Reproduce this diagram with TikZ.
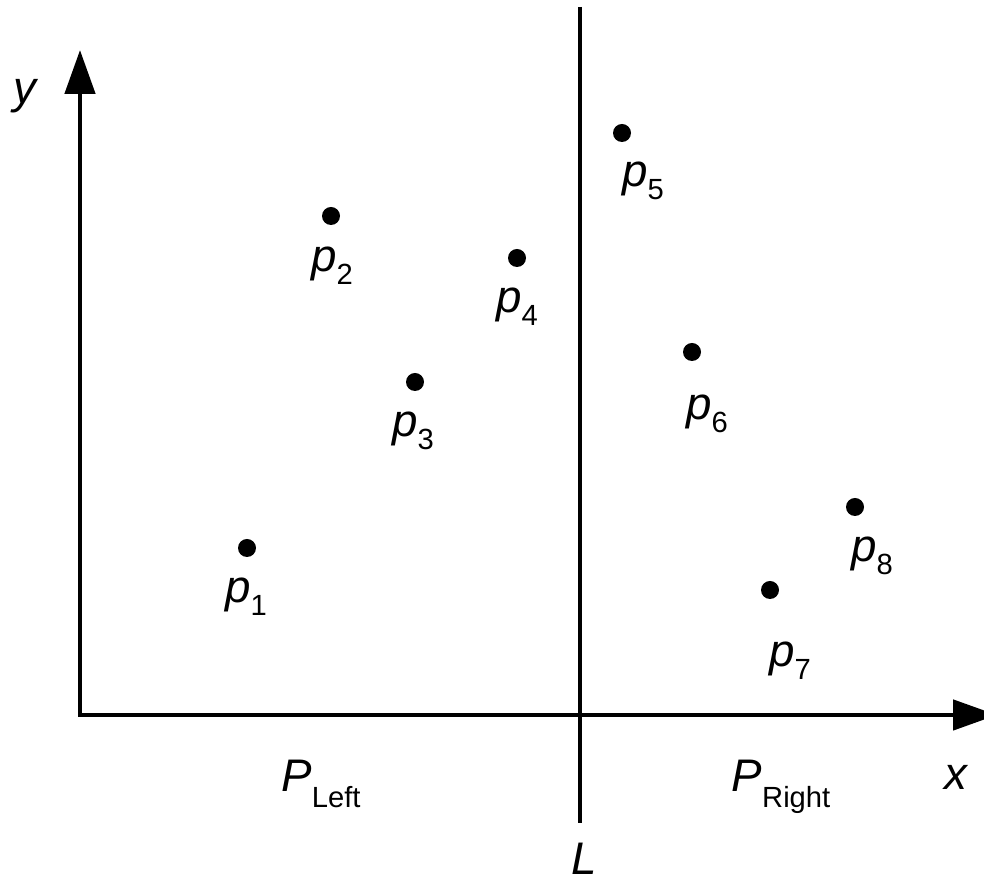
\documentclass[tikz,border=0pt]{standalone}
\usepackage{fontspec}
\setmainfont{Liberation Sans}
\usetikzlibrary{arrows.meta,positioning}
\newcommand{\ptsub}[1]{\raisebox{-0.13cm}{\fontsize{8.3pt}{10pt}\selectfont #1}}
\newcommand{\setsub}[1]{\raisebox{-0.16cm}{\fontsize{8.3pt}{10pt}\selectfont #1}}
\newcommand{\ptlabel}[1]{\textit{p}\ptsub{#1}}

\begin{document}
\begin{tikzpicture}[>={Triangle[length=0.44cm,width=0.30cm]},
                    line cap=butt,line join=miter,
                    font=\fontsize{13pt}{16pt}\selectfont]
  \tikzset{axis/.style={line width=1.35pt},
           dot/.style={circle,fill=black,inner sep=0pt,minimum size=0.18cm},
           ptname/.style={inner sep=0pt,anchor=base}}
  \useasboundingbox (0,0) rectangle (9.84,8.81);
  % Achsen und Trennlinie
  \coordinate (origin) at (0.80,1.66);
  \coordinate (ytip) at (0.80,8.31);
  \coordinate (xtip) at (9.97,1.66);
  \coordinate (Ltop) at (5.80,8.74);
  \coordinate (Lbot) at (5.80,0.58);
  \draw[axis,<->] (ytip) -- (origin) -- (xtip);
  \draw[axis] (Ltop) -- (Lbot);
  \node[ptname] (ylab) at (0.26,7.77) {\textit{y}};
  \node[ptname] (xlab) at (9.57,0.91) {\textit{x}};
  \node[ptname] (Llab) at (5.84,0.06) {\textit{L}};
  \node[ptname] (Pleft) at (3.21,0.89) {\textit{P}\setsub{Left}};
  \node[ptname] (Pright) at (7.81,0.89) {\textit{P}\setsub{Right}};
  % Punkte
  \node[dot] (p1) at (2.47,3.33) {};
  \node[dot] (p2) at (3.31,6.65) {};
  \node[dot] (p3) at (4.15,4.99) {};
  \node[dot] (p4) at (5.17,6.23) {};
  \node[dot] (p5) at (6.22,7.48) {};
  \node[dot] (p6) at (6.92,5.29) {};
  \node[dot] (p7) at (7.70,2.91) {};
  \node[dot] (p8) at (8.55,3.74) {};
  \node[ptname] (l1) at (2.46,2.78) {\ptlabel{1}};
  \node[ptname] (l2) at (3.32,6.09) {\ptlabel{2}};
  \node[ptname] (l3) at (4.13,4.44) {\ptlabel{3}};
  \node[ptname] (l4) at (5.17,5.68) {\ptlabel{4}};
  \node[ptname] (l5) at (6.43,6.94) {\ptlabel{5}};
  \node[ptname] (l6) at (7.07,4.61) {\ptlabel{6}};
  \node[ptname] (l7) at (7.90,2.14) {\ptlabel{7}};
  \node[ptname] (l8) at (8.72,3.19) {\ptlabel{8}};
\end{tikzpicture}
\end{document}
